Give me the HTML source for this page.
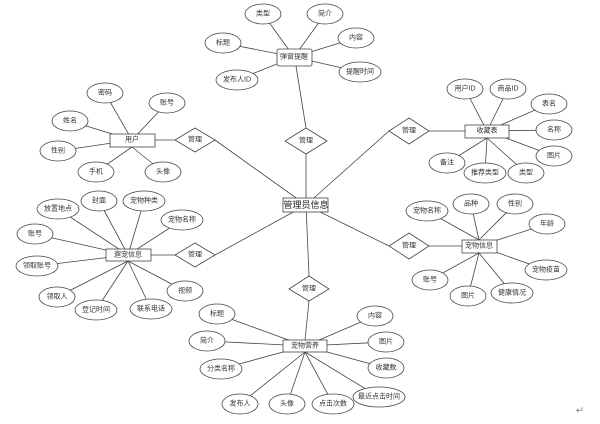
<!DOCTYPE html>
<html><head><meta charset="utf-8"><style>
html,body{margin:0;padding:0;background:#fff;}
svg text{font-family:"Liberation Sans","Noto Sans CJK SC",sans-serif;font-size:7px;fill:#333;text-anchor:middle;dominant-baseline:central;}
</style></head><body>
<svg width="600" height="419" viewBox="0 0 600 419" xmlns="http://www.w3.org/2000/svg">
<g stroke="#444" stroke-width="0.8" fill="none">
<line x1="306" y1="205" x2="306" y2="154"/>
<line x1="306" y1="128" x2="296" y2="66"/>
<line x1="306" y1="205" x2="215" y2="140"/>
<line x1="175" y1="140" x2="155" y2="140"/>
<line x1="306" y1="205" x2="215" y2="255"/>
<line x1="175" y1="255" x2="151" y2="255"/>
<line x1="306" y1="205" x2="389" y2="131"/>
<line x1="429" y1="131" x2="465" y2="131"/>
<line x1="306" y1="205" x2="389" y2="246"/>
<line x1="429" y1="246" x2="462" y2="246"/>
<line x1="306" y1="205" x2="309" y2="276"/>
<line x1="309" y1="301" x2="305" y2="340"/>
<line x1="294" y1="57" x2="263" y2="14"/><line x1="294" y1="57" x2="325" y2="14"/>
<line x1="294" y1="57" x2="223" y2="43"/><line x1="294" y1="57" x2="356" y2="38"/>
<line x1="294" y1="57" x2="237" y2="80"/><line x1="294" y1="57" x2="360" y2="72"/>
<line x1="132" y1="140" x2="105" y2="93"/><line x1="132" y1="140" x2="167" y2="103"/>
<line x1="132" y1="140" x2="70" y2="121"/><line x1="132" y1="140" x2="58" y2="151"/>
<line x1="132" y1="147" x2="96" y2="172"/><line x1="132" y1="147" x2="163" y2="172"/>
<line x1="487" y1="131" x2="465" y2="89"/><line x1="487" y1="131" x2="508" y2="89"/>
<line x1="487" y1="131" x2="549" y2="104"/><line x1="487" y1="131" x2="554" y2="130"/>
<line x1="487" y1="131" x2="554" y2="156"/><line x1="487" y1="138" x2="447" y2="163"/>
<line x1="487" y1="138" x2="485" y2="173"/><line x1="487" y1="138" x2="526" y2="173"/>
<line x1="128" y1="255" x2="58" y2="209"/><line x1="128" y1="255" x2="99" y2="201"/>
<line x1="128" y1="255" x2="144" y2="201"/><line x1="128" y1="255" x2="182" y2="220"/>
<line x1="128" y1="255" x2="35" y2="234"/><line x1="128" y1="255" x2="37" y2="266"/>
<line x1="128" y1="261" x2="57" y2="297"/><line x1="128" y1="261" x2="96" y2="310"/>
<line x1="128" y1="261" x2="151" y2="309"/><line x1="128" y1="261" x2="185" y2="291"/>
<line x1="479" y1="240" x2="427" y2="211"/><line x1="479" y1="240" x2="471" y2="204"/>
<line x1="479" y1="240" x2="515" y2="204"/><line x1="479" y1="246" x2="547" y2="224"/>
<line x1="479" y1="246" x2="546" y2="270"/><line x1="479" y1="253" x2="430" y2="280"/>
<line x1="479" y1="253" x2="468" y2="296"/><line x1="479" y1="253" x2="512" y2="293"/>
<line x1="305" y1="346" x2="217" y2="314"/><line x1="305" y1="346" x2="207" y2="341"/>
<line x1="305" y1="346" x2="221" y2="369"/><line x1="305" y1="352" x2="240" y2="404"/>
<line x1="305" y1="352" x2="287" y2="404"/><line x1="305" y1="352" x2="333" y2="404"/>
<line x1="305" y1="352" x2="379" y2="397"/><line x1="305" y1="346" x2="386" y2="368"/>
<line x1="305" y1="346" x2="386" y2="342"/><line x1="305" y1="346" x2="375" y2="316"/>
</g>
<g stroke="#444" stroke-width="0.8" fill="#fff">
<polygon points="306,128 327,141 306,154 285,141"/>
<polygon points="195,128 215,140 195,152 175,140"/>
<polygon points="195,243 215,255 195,267 175,255"/>
<polygon points="409,118 429,131 409,144 389,131"/>
<polygon points="409,233 429,246 409,259 389,246"/>
<polygon points="309,276 329,289 309,301 289,289"/>
<rect x="283" y="198" width="45" height="14"/>
<rect x="277" y="49" width="35" height="17" rx="2"/>
<rect x="110" y="134" width="45" height="13"/>
<rect x="465" y="125" width="44" height="13"/>
<rect x="106" y="249" width="45" height="12"/>
<rect x="462" y="240" width="35" height="13"/>
<rect x="283" y="340" width="44" height="12"/>
<ellipse cx="263" cy="14" rx="18" ry="10"/><ellipse cx="325" cy="14" rx="18" ry="10"/>
<ellipse cx="223" cy="43" rx="18" ry="10"/><ellipse cx="356" cy="38" rx="18" ry="10"/>
<ellipse cx="237" cy="80" rx="21" ry="10"/><ellipse cx="360" cy="72" rx="21" ry="10"/>
<ellipse cx="105" cy="93" rx="18" ry="10"/><ellipse cx="167" cy="103" rx="18" ry="10"/>
<ellipse cx="70" cy="121" rx="18" ry="10"/><ellipse cx="58" cy="151" rx="18" ry="10"/>
<ellipse cx="96" cy="172" rx="18" ry="10"/><ellipse cx="163" cy="172" rx="18" ry="10"/>
<ellipse cx="465" cy="89" rx="18" ry="10"/><ellipse cx="508" cy="89" rx="18" ry="10"/>
<ellipse cx="549" cy="104" rx="18" ry="10"/><ellipse cx="554" cy="130" rx="18" ry="10"/>
<ellipse cx="554" cy="156" rx="18" ry="10"/><ellipse cx="447" cy="163" rx="18" ry="10"/>
<ellipse cx="485" cy="173" rx="21" ry="10"/><ellipse cx="526" cy="173" rx="18" ry="10"/>
<ellipse cx="58" cy="209" rx="21" ry="10"/><ellipse cx="99" cy="201" rx="18" ry="10"/>
<ellipse cx="144" cy="201" rx="21" ry="10"/><ellipse cx="182" cy="220" rx="21" ry="10"/>
<ellipse cx="35" cy="234" rx="18" ry="10"/><ellipse cx="37" cy="266" rx="21" ry="10"/>
<ellipse cx="57" cy="297" rx="18" ry="10"/><ellipse cx="96" cy="310" rx="21" ry="10"/>
<ellipse cx="151" cy="309" rx="21" ry="10"/><ellipse cx="185" cy="291" rx="18" ry="10"/>
<ellipse cx="427" cy="211" rx="21" ry="10"/><ellipse cx="471" cy="204" rx="18" ry="10"/>
<ellipse cx="515" cy="204" rx="18" ry="10"/><ellipse cx="547" cy="224" rx="18" ry="10"/>
<ellipse cx="546" cy="270" rx="21" ry="10"/><ellipse cx="430" cy="280" rx="18" ry="10"/>
<ellipse cx="468" cy="296" rx="18" ry="10"/><ellipse cx="512" cy="293" rx="21" ry="10"/>
<ellipse cx="217" cy="314" rx="18" ry="10"/><ellipse cx="207" cy="341" rx="18" ry="10"/>
<ellipse cx="221" cy="369" rx="21" ry="10"/><ellipse cx="240" cy="404" rx="18" ry="10"/>
<ellipse cx="287" cy="404" rx="18" ry="10"/><ellipse cx="333" cy="404" rx="21" ry="10"/>
<ellipse cx="379" cy="397" rx="26" ry="10"/><ellipse cx="386" cy="368" rx="18" ry="10"/>
<ellipse cx="386" cy="342" rx="18" ry="10"/><ellipse cx="375" cy="316" rx="18" ry="10"/>
</g>
<g>
<text x="306" y="141">管理</text><text x="195" y="140">管理</text><text x="195" y="255">管理</text>
<text x="409" y="131">管理</text><text x="409" y="246">管理</text><text x="309" y="289">管理</text>
<text x="306" y="205" style="font-size:9px;fill:#222">管理员信息</text>
<text x="294" y="57">弹窗提醒</text><text x="132" y="140">用户</text><text x="487" y="131">收藏表</text>
<text x="128" y="255">遛宠信息</text><text x="479" y="246">宠物信息</text><text x="305" y="346">宠物营养</text>
<text x="263" y="14">类型</text><text x="325" y="14">简介</text><text x="223" y="43">标题</text>
<text x="356" y="38">内容</text><text x="237" y="80">发布人ID</text><text x="360" y="72">提醒时间</text>
<text x="105" y="93">密码</text><text x="167" y="103">账号</text><text x="70" y="121">姓名</text>
<text x="58" y="151">性别</text><text x="96" y="172">手机</text><text x="163" y="172">头像</text>
<text x="465" y="89">用户ID</text><text x="508" y="89">商品ID</text><text x="549" y="104">表名</text>
<text x="554" y="130">名称</text><text x="554" y="156">图片</text><text x="447" y="163">备注</text>
<text x="485" y="173">推荐类型</text><text x="526" y="173">类型</text>
<text x="58" y="209">放置地点</text><text x="99" y="201">封面</text><text x="144" y="201">宠物种类</text>
<text x="182" y="220">宠物名称</text><text x="35" y="234">账号</text><text x="37" y="266">领取账号</text>
<text x="57" y="297">领取人</text><text x="96" y="310">登记时间</text><text x="151" y="309">联系电话</text>
<text x="185" y="291">视频</text>
<text x="427" y="211">宠物名称</text><text x="471" y="204">品种</text><text x="515" y="204">性别</text>
<text x="547" y="224">年龄</text><text x="546" y="270">宠物疫苗</text><text x="430" y="280">账号</text>
<text x="468" y="296">图片</text><text x="512" y="293">健康情况</text>
<text x="217" y="314">标题</text><text x="207" y="341">简介</text><text x="221" y="369">分类名称</text>
<text x="240" y="404">发布人</text><text x="287" y="404">头像</text><text x="333" y="404">点击次数</text>
<text x="379" y="397">最近点击时间</text><text x="386" y="368">收藏数</text><text x="386" y="342">图片</text>
<text x="375" y="316">内容</text>
<text x="580" y="411" style="fill:#888;font-size:10px">↵</text>
</g>
</svg>
</body></html>
